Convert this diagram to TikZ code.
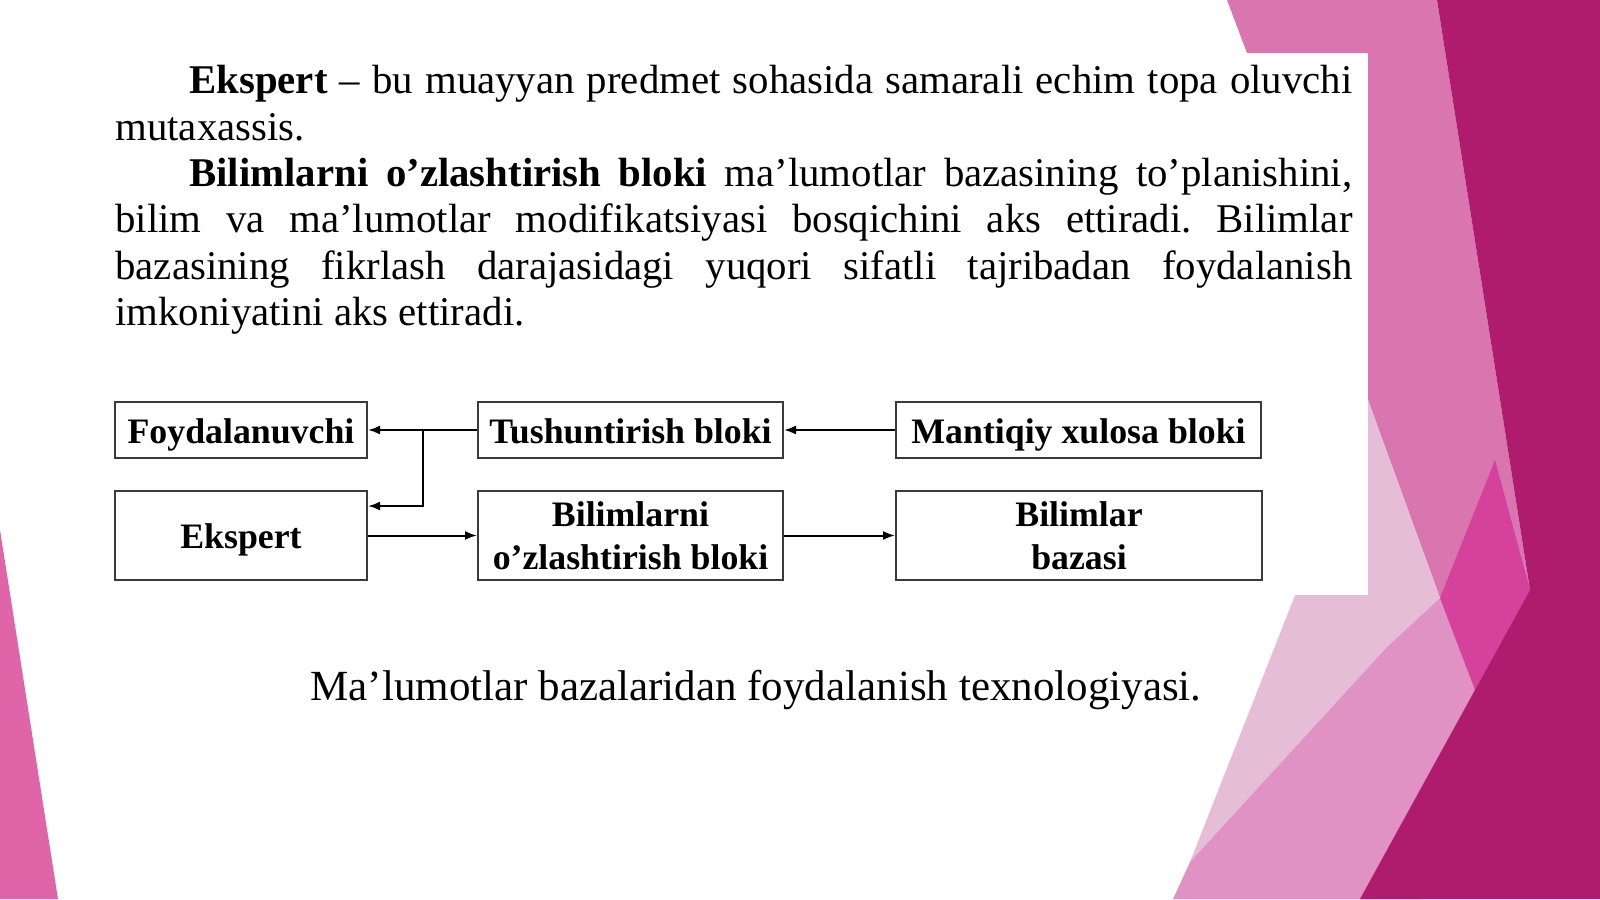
\documentclass[tikz,border=0pt]{standalone}
\usepackage{fontspec}
\setmainfont{Liberation Serif}
\usetikzlibrary{positioning,arrows,arrows.meta,calc}
\definecolor{boxgray}{HTML}{3A3A3A}
\definecolor{pinkleft}{HTML}{E064A8}
\definecolor{pinkmid}{HTML}{D975AF}
\definecolor{pinklav}{HTML}{E5BDD7}
\definecolor{pinksoft}{HTML}{E192C4}
\definecolor{pinkhot}{HTML}{D5429B}
\definecolor{pinkdark}{HTML}{AF1B6D}
\tikzset{blok/.style 2 args={
    draw=boxgray, line width=1pt,
    minimum width=#1, minimum height=#2,
    inner sep=0pt, align=center,
    font=\bfseries\fontsize{17.9}{21.5}\selectfont
    },
    bir/.style={text height=13pt, text depth=0pt}
}

\begin{document}
\begin{tikzpicture}[x=0.5pt,y=-0.5pt,>={Latex[length=6pt,width=4.5pt]}]
	\useasboundingbox (0,0) rectangle (1600,899);
	% slide background
	\fill[white] (0,0) rectangle (1600,899);
	\fill[pinkmid] (1227,0) -- (1437,0) -- (1530,590) -- (1440,598) -- (1368,400) -- (1340,300) -- cycle;
	\fill[pinklav] (1305,570) -- (1368,400) -- (1440,598) -- (1387,647) -- (1190,862) -- cycle;
	\fill[pinksoft] (1440,598) -- (1530,590) -- (1420,899) -- (1173,899) -- (1190,862) -- (1387,647) -- cycle;
	\fill[pinkhot] (1495,460) -- (1530,590) -- (1475,690) -- (1440,598) -- cycle;
	\fill[pinkdark] (1437,0) -- (1600,0) -- (1600,899) -- (1360,899) -- (1530,590) -- cycle;
	\fill[white] (15,53) rectangle (1368,595);
	\fill[pinkleft] (0,530) -- (58,899) -- (0,899) -- cycle;
	% text
	\node[anchor=north west, inner sep=0pt, text width=618.5pt, align=justify,
		font=\fontsize{20.4}{23.2}\selectfont] (matn) at (115,65)
		{\hyphenpenalty=10000\exhyphenpenalty=10000\frenchspacing
		\hspace*{37pt}\textbf{Ekspert} – bu muayyan predmet sohasida samarali echim topa oluvchi\linebreak
		mutaxassis.\par
		\hspace*{37pt}\textbf{Bilimlarni o’zlashtirish bloki} ma’lumotlar bazasining to’planishini,\linebreak
		bilim va ma’lumotlar modifikatsiyasi bosqichini aks ettiradi. Bilimlar\linebreak
		bazasining fikrlash darajasidagi yuqori sifatli tajribadan foydalanish\linebreak
		imkoniyatini aks ettiradi.};
	% blocks
	\node[blok={126pt}{28pt},bir] (Foyd) at (241,430) {Foydalanuvchi};
	\node[blok={152.5pt}{28pt},bir] (Tush) at (630.5,430) {Tushuntirish bloki};
	\node[blok={182.5pt}{28pt},bir] (Mant) at (1078.5,430) {Mantiqiy xulosa bloki};
	\node[blok={126pt}{44.5pt},bir] (Eksp) at (241,535.5) {Ekspert};
	\node[blok={152.5pt}{44.5pt}] (Bil) at (630.5,535.5) {Bilimlarni\\o’zlashtirish bloki};
	\node[blok={183pt}{44.5pt}] (Baza) at (1079,535.5) {Bilimlar\\bazasi};
	\coordinate (tugun) at ($(Tush.west)!0.5!(Foyd.east)$);
	\draw [->,line width=1pt] (Mant) -- (Tush);
	\draw [->,line width=1pt] (Tush) -- (Foyd);
	\draw [->,line width=1pt] (tugun) |- ([yshift=14.75pt]Eksp.east);
	\draw [->,line width=1pt] (Eksp) -- (Bil);
	\draw [->,line width=1pt] (Bil) -- (Baza);
	% caption
	\node[anchor=base, font=\fontsize{21.5}{25}\selectfont] (izoh) at (756,700)
		{Ma’lumotlar bazalaridan foydalanish texnologiyasi.};
\end{tikzpicture}
\end{document}
